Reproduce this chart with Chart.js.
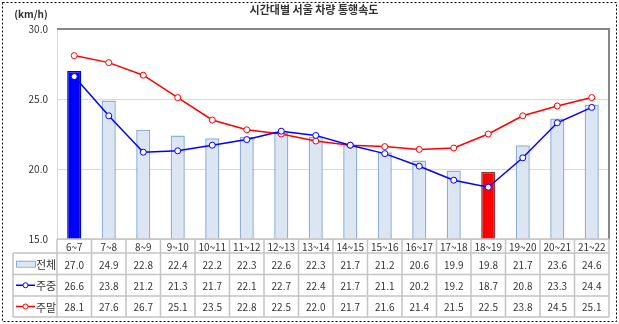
<!DOCTYPE html>
<html>
<head>
<meta charset="utf-8">
<script src="https://cdn.jsdelivr.net/npm/chart.js@4"></script>
<style>
    body { margin: 0; background: #fff; }
    #wrap { width: 619px; height: 324px; }
</style>
</head>
<body>
<div id="wrap"><canvas id="speedChart" width="619" height="324"></canvas></div>
<script>
// Data
const categories = ['6~7', '7~8', '8~9', '9~10', '10~11', '11~12', '12~13', '13~14',
    '14~15', '15~16', '16~17', '17~18', '18~19', '19~20', '20~21', '21~22'];
const totalSpeed = [27.0, 24.9, 22.8, 22.4, 22.2, 22.3, 22.6, 22.3, 21.7, 21.2, 20.6, 19.9, 19.8, 21.7, 23.6, 24.6];
const weekdaySpeed = [26.6, 23.8, 21.2, 21.3, 21.7, 22.1, 22.7, 22.4, 21.7, 21.1, 20.2, 19.2, 18.7, 20.8, 23.3, 24.4];
const weekendSpeed = [28.1, 27.6, 26.7, 25.1, 23.5, 22.8, 22.5, 22.0, 21.7, 21.6, 21.4, 21.5, 22.5, 23.8, 24.5, 25.1];
const seriesNames = ['전체', '주중', '주말'];
const yTicks = [15, 20, 25, 30];

const FONT = '"Noto Sans CJK KR", "Noto Sans", sans-serif';

// highlight the fastest and slowest hour in the 전체 bars
const maxIdx = totalSpeed.indexOf(Math.max(...totalSpeed));
const minIdx = totalSpeed.indexOf(Math.min(...totalSpeed));
const barFill = totalSpeed.map((v, i) => i === maxIdx ? '#0000ff' : (i === minIdx ? '#ff0000' : '#dce6f2'));
const barBorder = totalSpeed.map((v, i) => i === maxIdx ? '#0000cc' : (i === minIdx ? '#8c3a3a' : '#8eb0d8'));

// Title, frame and data table drawn around the plot
const tablePlugin = {
    id: 'tablePlugin',
    afterDraw(chart) {
        const ctx = chart.ctx;
        const area = chart.chartArea;
        const xs = chart.scales.x;
        const colW = area.width / categories.length;
        const legendLeft = 13;
        const rows = [area.bottom, 253, 274.5, 296, 317];

        ctx.save();

        // title + unit
        ctx.fillStyle = '#333';
        ctx.font = 'bold 11px ' + FONT;
        ctx.textAlign = 'center';
        ctx.textBaseline = 'middle';
        ctx.fillText('시간대별 서울 차량 통행속도', 314, 10);
        ctx.font = 'bold 10px ' + FONT;
        ctx.fillText('(km/h)', 31, 14);

        // plot frame (top / right)
        ctx.strokeStyle = '#868686';
        ctx.lineWidth = 2;
        ctx.beginPath();
        ctx.moveTo(area.left, area.top);
        ctx.lineTo(area.right, area.top);
        ctx.lineTo(area.right, area.bottom);
        ctx.stroke();

        // table grid
        ctx.strokeStyle = '#c4c4c4';
        ctx.lineWidth = 1.5;
        ctx.beginPath();
        ctx.moveTo(area.left, rows[0]);
        ctx.lineTo(area.right, rows[0]);
        for (let r = 1; r < rows.length; r++) {
            ctx.moveTo(legendLeft, rows[r]);
            ctx.lineTo(area.right, rows[r]);
        }
        for (let i = 0; i <= categories.length; i++) {
            const x = area.left + i * colW;
            ctx.moveTo(x, rows[0]);
            ctx.lineTo(x, rows[rows.length - 1]);
        }
        ctx.moveTo(legendLeft, rows[1]);
        ctx.lineTo(legendLeft, rows[rows.length - 1]);
        ctx.stroke();

        // category header + values
        const tableData = [totalSpeed, weekdaySpeed, weekendSpeed];
        ctx.fillStyle = '#333';
        ctx.font = '10px ' + FONT;
        ctx.textAlign = 'center';
        categories.forEach((c, i) => {
            const x = xs.getPixelForValue(i);
            ctx.fillText(c, x, (rows[0] + rows[1]) / 2 + 1);
            tableData.forEach((arr, r) => {
                ctx.fillText(arr[i].toFixed(1), x, (rows[r + 1] + rows[r + 2]) / 2 + 1);
            });
        });

        // legend keys in the first column
        const keyX = 16, keyW = 19;
        const midY = r => (rows[r + 1] + rows[r + 2]) / 2;
        ctx.fillStyle = '#dce6f2';
        ctx.strokeStyle = '#8eb0d8';
        ctx.lineWidth = 1;
        ctx.fillRect(keyX, midY(0) - 3, keyW, 6);
        ctx.strokeRect(keyX + 0.5, midY(0) - 2.5, keyW, 6);
        [['#0000ff', 1], ['#ff0000', 2]].forEach(([col, r]) => {
            const y = midY(r);
            ctx.strokeStyle = col;
            ctx.lineWidth = 1.5;
            ctx.beginPath();
            ctx.moveTo(keyX, y);
            ctx.lineTo(keyX + keyW, y);
            ctx.stroke();
            ctx.beginPath();
            ctx.arc(keyX + keyW / 2, y, 2.5, 0, Math.PI * 2);
            ctx.fillStyle = '#fff';
            ctx.fill();
            ctx.lineWidth = 1;
            ctx.stroke();
        });
        ctx.fillStyle = '#333';
        ctx.font = '11px ' + FONT;
        ctx.textAlign = 'left';
        seriesNames.forEach((name, r) => {
            ctx.fillText(name, 36, midY(r) + 1);
        });

        // dashed outer border
        ctx.strokeStyle = '#000';
        ctx.lineWidth = 1;
        ctx.setLineDash([2, 2]);
        ctx.strokeRect(2.5, 2.5, 614, 319);
        ctx.restore();
    }
};

const ctx = document.getElementById('speedChart').getContext('2d');
new Chart(ctx, {
    data: {
        labels: categories,
        datasets: [
            {
                type: 'line',
                label: seriesNames[2],
                data: weekendSpeed,
                borderColor: '#ff0000',
                borderWidth: 1.5,
                pointRadius: 3,
                pointBackgroundColor: '#fff',
                pointBorderColor: '#ff0000',
                pointBorderWidth: 1,
                tension: 0,
                order: 1
            },
            {
                type: 'line',
                label: seriesNames[1],
                data: weekdaySpeed,
                borderColor: '#0000ff',
                borderWidth: 1.5,
                pointRadius: 3,
                pointBackgroundColor: '#fff',
                pointBorderColor: '#0000ff',
                pointBorderWidth: 1,
                tension: 0,
                order: 0
            },
            {
                type: 'bar',
                label: seriesNames[0],
                data: totalSpeed,
                backgroundColor: barFill,
                borderColor: barBorder,
                borderWidth: 1.5,
                barPercentage: 0.41,
                categoryPercentage: 1,
                order: 2
            }
        ]
    },
    options: {
        responsive: false,
        animation: false,
        layout: { padding: { left: 0, right: 10, top: 29, bottom: 85 } },
        plugins: {
            legend: { display: false },
            title: { display: false },
            tooltip: { enabled: false }
        },
        scales: {
            x: {
                display: false,
                offset: true
            },
            y: {
                min: 15,
                max: 30,
                afterBuildTicks: axis => { axis.ticks = yTicks.map(v => ({ value: v })); },
                afterFit: axis => { axis.width = 57; },
                grid: { color: '#d9d9d9', drawTicks: false },
                border: { color: '#d9d9d9' },
                ticks: {
                    padding: 9,
                    color: '#333',
                    font: { family: FONT, size: 10 },
                    callback: v => v.toFixed(1)
                }
            }
        }
    },
    plugins: [tablePlugin]
});
</script>
</body>
</html>
